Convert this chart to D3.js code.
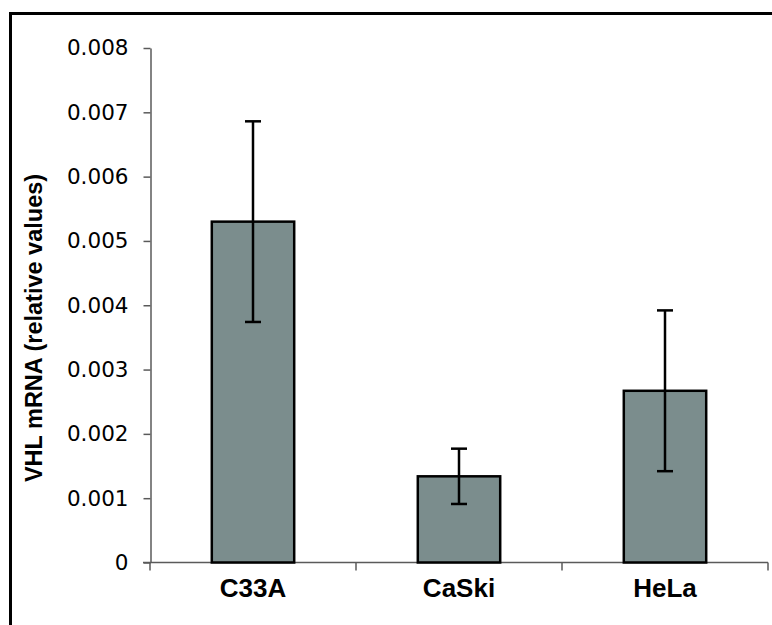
<!DOCTYPE html>
<html>
<head>
<meta charset="utf-8">
<script src="https://cdn.jsdelivr.net/npm/d3@7"></script>
<style>
  html, body { margin: 0; padding: 0; background: #fff; }
</style>
</head>
<body>
<div id="chart"></div>
<script>
// data
const categories = ['C33A', 'CaSki', 'HeLa'];
const means = [0.00530, 0.00134, 0.00267];
const errors = [0.00156, 0.00043, 0.00125];
const yTicks = [0, 0.001, 0.002, 0.003, 0.004, 0.005, 0.006, 0.007, 0.008];

const width = 772;
const height = 625;

const svg = d3.select('#chart')
  .append('svg')
  .attr('width', width)
  .attr('height', height);

// frame, cut off on the right and at the bottom
svg.append('path')
  .attr('d', `M10.5,${height + 5} L10.5,13.5 L${width + 5},13.5`)
  .attr('fill', 'none')
  .attr('stroke', '#000')
  .attr('stroke-width', 3);

const y = d3.scaleLinear()
  .domain([0, 0.008])
  .range([562.5, 48]);

const x = d3.scaleBand()
  .domain(categories)
  .range([150, 768])
  .paddingInner(0.6)
  .paddingOuter(0.3);

const axisColor = '#5a5a5a';

// y axis
const yAxis = svg.append('g')
  .attr('transform', 'translate(150.5,0)')
  .call(d3.axisLeft(y)
    .tickValues(yTicks)
    .tickSize(7)
    .tickSizeOuter(0)
    .tickPadding(15)
    .tickFormat(d => d === 0 ? '0' : d3.format('.3f')(d)));

yAxis.select('.domain').attr('stroke', axisColor).attr('stroke-width', 1.5);
yAxis.selectAll('.tick line').attr('stroke', axisColor).attr('stroke-width', 1.5);
yAxis.selectAll('.tick text')
  .attr('fill', '#000')
  .style('font-family', '"DejaVu Sans", Verdana, sans-serif')
  .style('font-size', '21.5px');

// x axis line and category separators
const base = y(0);
const step = x.step();
const bounds = d3.range(categories.length + 1).map(i => x(categories[0]) - x.paddingOuter() * step + i * step);

svg.append('line')
  .attr('x1', 143).attr('x2', bounds[bounds.length - 1])
  .attr('y1', base).attr('y2', base)
  .attr('stroke', axisColor)
  .attr('stroke-width', 1.5);

svg.selectAll('.xtick')
  .data(bounds)
  .join('line')
  .attr('class', 'xtick')
  .attr('x1', d => d).attr('x2', d => d)
  .attr('y1', base).attr('y2', base + 8)
  .attr('stroke', axisColor)
  .attr('stroke-width', 1.5);

// bars
svg.selectAll('.bar')
  .data(categories)
  .join('rect')
  .attr('class', 'bar')
  .attr('x', d => x(d))
  .attr('y', (d, i) => y(means[i]))
  .attr('width', x.bandwidth())
  .attr('height', (d, i) => base - y(means[i]))
  .attr('fill', '#7b8d8d')
  .attr('stroke', '#000')
  .attr('stroke-width', 2.5);

// error bars
const capW = 8;
const err = svg.selectAll('.err')
  .data(categories)
  .join('g')
  .attr('class', 'err')
  .attr('stroke', '#000')
  .attr('stroke-width', 2.5);

err.append('line')
  .attr('x1', d => x(d) + x.bandwidth() / 2)
  .attr('x2', d => x(d) + x.bandwidth() / 2)
  .attr('y1', (d, i) => y(means[i] + errors[i]))
  .attr('y2', (d, i) => y(means[i] - errors[i]));

err.append('line')
  .attr('x1', d => x(d) + x.bandwidth() / 2 - capW)
  .attr('x2', d => x(d) + x.bandwidth() / 2 + capW)
  .attr('y1', (d, i) => y(means[i] + errors[i]))
  .attr('y2', (d, i) => y(means[i] + errors[i]));

err.append('line')
  .attr('x1', d => x(d) + x.bandwidth() / 2 - capW)
  .attr('x2', d => x(d) + x.bandwidth() / 2 + capW)
  .attr('y1', (d, i) => y(means[i] - errors[i]))
  .attr('y2', (d, i) => y(means[i] - errors[i]));

// category labels
svg.selectAll('.cat')
  .data(categories)
  .join('text')
  .attr('class', 'cat')
  .attr('x', d => x(d) + x.bandwidth() / 2)
  .attr('y', 597)
  .attr('text-anchor', 'middle')
  .style('font-family', '"Liberation Sans", Arial, sans-serif')
  .style('font-weight', 'bold')
  .style('font-size', '26px')
  .text(d => d);

// y axis title
svg.append('text')
  .attr('transform', 'translate(42,328) rotate(-90)')
  .attr('text-anchor', 'middle')
  .style('font-family', '"Liberation Sans", Arial, sans-serif')
  .style('font-weight', 'bold')
  .style('font-size', '23.5px')
  .text('VHL mRNA (relative values)');
</script>
</body>
</html>
